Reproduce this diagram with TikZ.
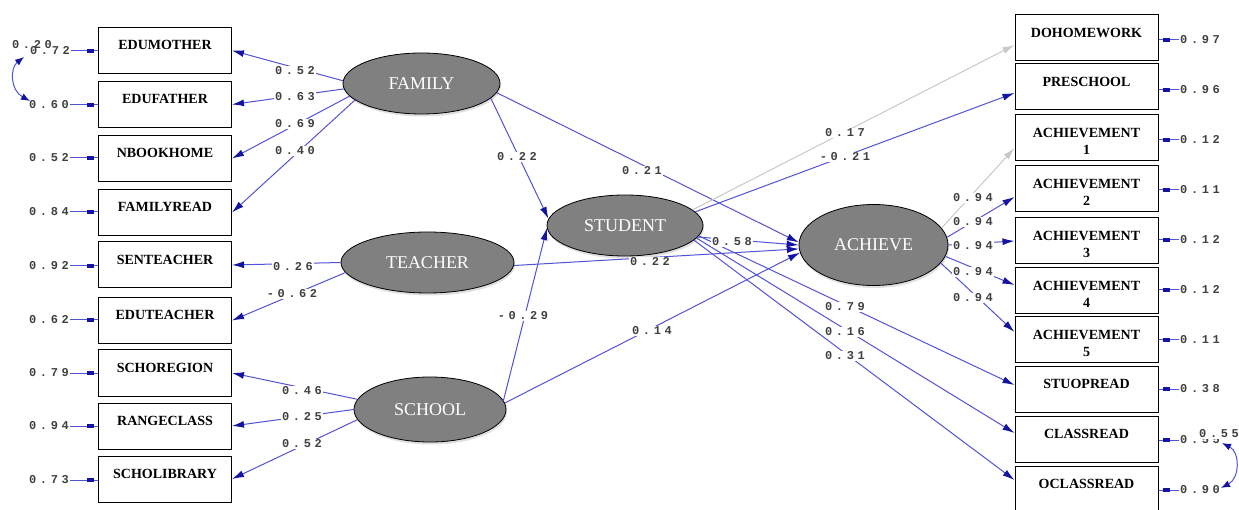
\documentclass[tikz,border=0pt]{standalone}
\usepackage{fontspec}
\setmainfont{Liberation Serif}
\newfontfamily\numfont[LetterSpace=30]{Liberation Mono}
\usetikzlibrary{arrows.meta,shapes.geometric,shadows,decorations.markings}
\definecolor{lineblue}{RGB}{82,82,215}
\definecolor{tipblue}{RGB}{20,20,160}
\definecolor{linegray}{RGB}{200,200,200}
\definecolor{latfill}{RGB}{128,128,128}
\newcommand{\highstrut}{\rule{0pt}{16pt}}
\tikzset{
  obsleft/.style={draw=black, line width=1pt, fill=white, minimum width=133pt,
    minimum height=46pt, inner sep=0pt, align=center,
    font=\bfseries\fontsize{14}{17}\selectfont},
  obsright/.style={obsleft, minimum width=143pt},
  latent/.style={ellipse, draw=black, line width=0.8pt, fill=latfill, text=white,
    inner sep=0pt, font=\fontsize{18}{20}\selectfont,
    drop shadow={shadow xshift=1pt, shadow yshift=-2.5pt, opacity=0.25}},
  lbl/.style={fill=white, inner sep=1pt, text=black!75,
    font=\numfont\bfseries\fontsize{12}{13}\selectfont},
  path/.style={draw=lineblue, line width=1pt,
    -{Latex[length=12pt, width=7pt, color=tipblue]}},
  gpath/.style={draw=linegray, line width=1pt,
    -{Latex[length=12pt, width=7pt, color=linegray]}},
  err/.style={draw=lineblue, line width=1pt,
    postaction={decorate, decoration={markings, mark=at position 1 with
      {\fill[tipblue] (-11pt,-2.4pt) rectangle (-4pt,2.4pt);}}}},
  cov/.style={draw=lineblue, line width=1pt,
    {Latex[length=9pt, width=7pt, color=tipblue]}-{Latex[length=9pt, width=7pt, color=tipblue]}},
}
\begin{document}
\begin{tikzpicture}[x=1pt, y=-1pt]
\useasboundingbox (0,0) rectangle (1239,510);

% observed indicators, left column
\node[obsleft] (edumother)   at (165,50.5)  {\highstrut EDUMOTHER\\\phantom{1}};
\node[obsleft] (edufather)   at (165,104.5) {\highstrut EDUFATHER\\\phantom{1}};
\node[obsleft] (nbookhome)   at (165,158.5) {\highstrut NBOOKHOME\\\phantom{1}};
\node[obsleft] (familyread)  at (165,212.5) {\highstrut FAMILYREAD\\\phantom{1}};
\node[obsleft] (senteacher)  at (165,265)   {\highstrut SENTEACHER\\\phantom{1}};
\node[obsleft] (eduteacher)  at (165,320.5) {\highstrut EDUTEACHER\\\phantom{1}};
\node[obsleft] (schoregion)  at (165,373)   {\highstrut SCHOREGION\\\phantom{1}};
\node[obsleft] (rangeclass)  at (165,426)   {\highstrut RANGECLASS\\\phantom{1}};
\node[obsleft] (scholibrary) at (165,479)   {\highstrut SCHOLIBRARY\\\phantom{1}};

% observed indicators, right column
\node[obsright] (dohomework) at (1086.5,38)  {\highstrut DOHOMEWORK\\\phantom{1}};
\node[obsright] (preschool)  at (1086.5,87)  {\highstrut PRESCHOOL\\\phantom{1}};
\node[obsright] (ach1)       at (1086.5,138) {\highstrut ACHIEVEMENT\\1};
\node[obsright] (ach2)       at (1086.5,189) {\highstrut ACHIEVEMENT\\2};
\node[obsright] (ach3)       at (1086.5,241) {\highstrut ACHIEVEMENT\\3};
\node[obsright] (ach4)       at (1086.5,291) {\highstrut ACHIEVEMENT\\4};
\node[obsright] (ach5)       at (1086.5,340) {\highstrut ACHIEVEMENT\\5};
\node[obsright] (stuopread)  at (1086.5,389) {\highstrut STUOPREAD\\\phantom{1}};
\node[obsright] (classread)  at (1086.5,439) {\highstrut CLASSREAD\\\phantom{1}};
\node[obsright] (oclassread) at (1086.5,489) {\highstrut OCLASSREAD\\\phantom{1}};

% latent variables
\node[latent, minimum width=157pt, minimum height=61pt] (family)  at (421.5,83.5)  {FAMILY};
\node[latent, minimum width=173pt, minimum height=61pt] (teacher) at (427.5,262.5) {TEACHER};
\node[latent, minimum width=152pt, minimum height=65pt] (school)  at (430,409.5)   {SCHOOL};
\node[latent, minimum width=156pt, minimum height=61pt] (student) at (625,225.5)   {STUDENT};
\node[latent, minimum width=149pt, minimum height=81pt] (achieve) at (873.5,245)   {ACHIEVE};

% measurement paths
\draw[path] (family.178) -- (edumother.east);
\draw[path] (family.184) -- (edufather.east);
\draw[path] (family.190) -- (nbookhome.east);
\draw[path] (family.194) -- (familyread.east);
\draw[path] (teacher.west) -- (senteacher.east);
\draw[path] (teacher.187) -- (eduteacher.east);
\draw[path] (school.172) -- (schoregion.east);
\draw[path] (school.180) -- (rangeclass.east);
\draw[path] (school.188) -- (scholibrary.east);

% structural paths
\draw[path] (family.-12) -- (student.175);
\draw[path] (school.7) -- (student.182);
\draw[path] (family.-7) -- (achieve.178);
\draw[path] (teacher.-2) -- (achieve.183);
\draw[path] (school.5) -- (achieve.186);
\draw[path] (student.-9) -- (achieve.180);
\draw[gpath] (student.13) -- ([yshift=-7pt]dohomework.west);
\draw[path] (student.11) -- ([yshift=-6pt]preschool.west);
\draw[path] (student.-8) -- ([yshift=4pt]stuopread.west);
\draw[path] (student.-10) -- ([yshift=6pt]classread.west);
\draw[path] (student.-12) -- ([yshift=9pt]oclassread.west);
\draw[gpath] (achieve.14) -- ([yshift=-10pt]ach1.west);
\draw[path] (achieve.6) -- ([yshift=-8pt]ach2.west);
\draw[path] (achieve.0) -- (ach3.west);
\draw[path] (achieve.-9) -- ([yshift=6pt]ach4.west);
\draw[path] (achieve.-15) -- ([yshift=8pt]ach5.west);

% path coefficients
\node[lbl] (l01) at (295,71)  {0.52};
\node[lbl] (l02) at (295,97)  {0.63};
\node[lbl] (l03) at (295,124) {0.69};
\node[lbl] (l04) at (295,151) {0.40};
\node[lbl] (l05) at (293,267) {0.26};
\node[lbl] (l06) at (292,294) {-0.62};
\node[lbl] (l07) at (302,391) {0.46};
\node[lbl] (l08) at (302,417) {0.25};
\node[lbl] (l09) at (302,444) {0.52};
\node[lbl] (l10) at (517,157) {0.22};
\node[lbl] (l11) at (642,171) {0.21};
\node[lbl] (l12) at (650,262) {0.22};
\node[lbl] (l13) at (523,316) {-0.29};
\node[lbl] (l14) at (652,331) {0.14};
\node[lbl] (l15) at (732,242) {0.58};
\node[lbl] (l16) at (845,133) {0.17};
\node[lbl] (l17) at (845,157) {-0.21};
\node[lbl] (l18) at (845,307) {0.79};
\node[lbl] (l19) at (845,332) {0.16};
\node[lbl] (l20) at (845,356) {0.31};
\node[lbl] (l21) at (973,198) {0.94};
\node[lbl] (l22) at (973,222) {0.94};
\node[lbl] (l23) at (973,246) {0.94};
\node[lbl] (l24) at (973,272) {0.94};
\node[lbl] (l25) at (973,298) {0.94};

% error variances, left column
\node[lbl] (e01) at (50,51)  {0.72};
\node[lbl] (e02) at (49,105) {0.60};
\node[lbl] (e03) at (49,158) {0.52};
\node[lbl] (e04) at (49,212) {0.84};
\node[lbl] (e05) at (49,266) {0.92};
\node[lbl] (e06) at (49,320) {0.62};
\node[lbl] (e07) at (49,373) {0.79};
\node[lbl] (e08) at (49,426) {0.94};
\node[lbl] (e09) at (49,480) {0.73};
\draw[err] (e01.east) -- (e01.east -| edumother.west);
\draw[err] (e02.east) -- (e02.east -| edufather.west);
\draw[err] (e03.east) -- (e03.east -| nbookhome.west);
\draw[err] (e04.east) -- (e04.east -| familyread.west);
\draw[err] (e05.east) -- (e05.east -| senteacher.west);
\draw[err] (e06.east) -- (e06.east -| eduteacher.west);
\draw[err] (e07.east) -- (e07.east -| schoregion.west);
\draw[err] (e08.east) -- (e08.east -| rangeclass.west);
\draw[err] (e09.east) -- (e09.east -| scholibrary.west);

% error variances, right column
\node[lbl] (r01) at (1200,40)  {0.97};
\node[lbl] (r02) at (1200,90)  {0.96};
\node[lbl] (r03) at (1200,140) {0.12};
\node[lbl] (r04) at (1200,190) {0.11};
\node[lbl] (r05) at (1200,240) {0.12};
\node[lbl] (r06) at (1200,290) {0.12};
\node[lbl] (r07) at (1200,340) {0.11};
\node[lbl] (r08) at (1200,389) {0.38};
\node[lbl] (r09) at (1200,440) {0.55};
\node[lbl] (r10) at (1200,490) {0.90};
\draw[err] (r01.west) -- (r01.west -| dohomework.east);
\draw[err] (r02.west) -- (r02.west -| preschool.east);
\draw[err] (r03.west) -- (r03.west -| ach1.east);
\draw[err] (r04.west) -- (r04.west -| ach2.east);
\draw[err] (r05.west) -- (r05.west -| ach3.east);
\draw[err] (r06.west) -- (r06.west -| ach4.east);
\draw[err] (r07.west) -- (r07.west -| ach5.east);
\draw[err] (r08.west) -- (r08.west -| stuopread.east);
\draw[err] (r09.west) -- (r09.west -| classread.east);
\draw[err] (r10.west) -- (r10.west -| oclassread.east);

% error covariances
\coordinate (c1a) at (24,57);
\coordinate (c1b) at (30,101);
\draw[cov] (c1a) .. controls (10,68) and (10,90) .. (c1b);
\node[lbl, fill=none] (c1) at (32,45) {0.20};
\coordinate (c2a) at (1222,443);
\coordinate (c2b) at (1221,488);
\draw[cov] (c2a) .. controls (1240,452) and (1240,478) .. (c2b);
\node[lbl] (c2) at (1219,434) {0.55};
\end{tikzpicture}
\end{document}
